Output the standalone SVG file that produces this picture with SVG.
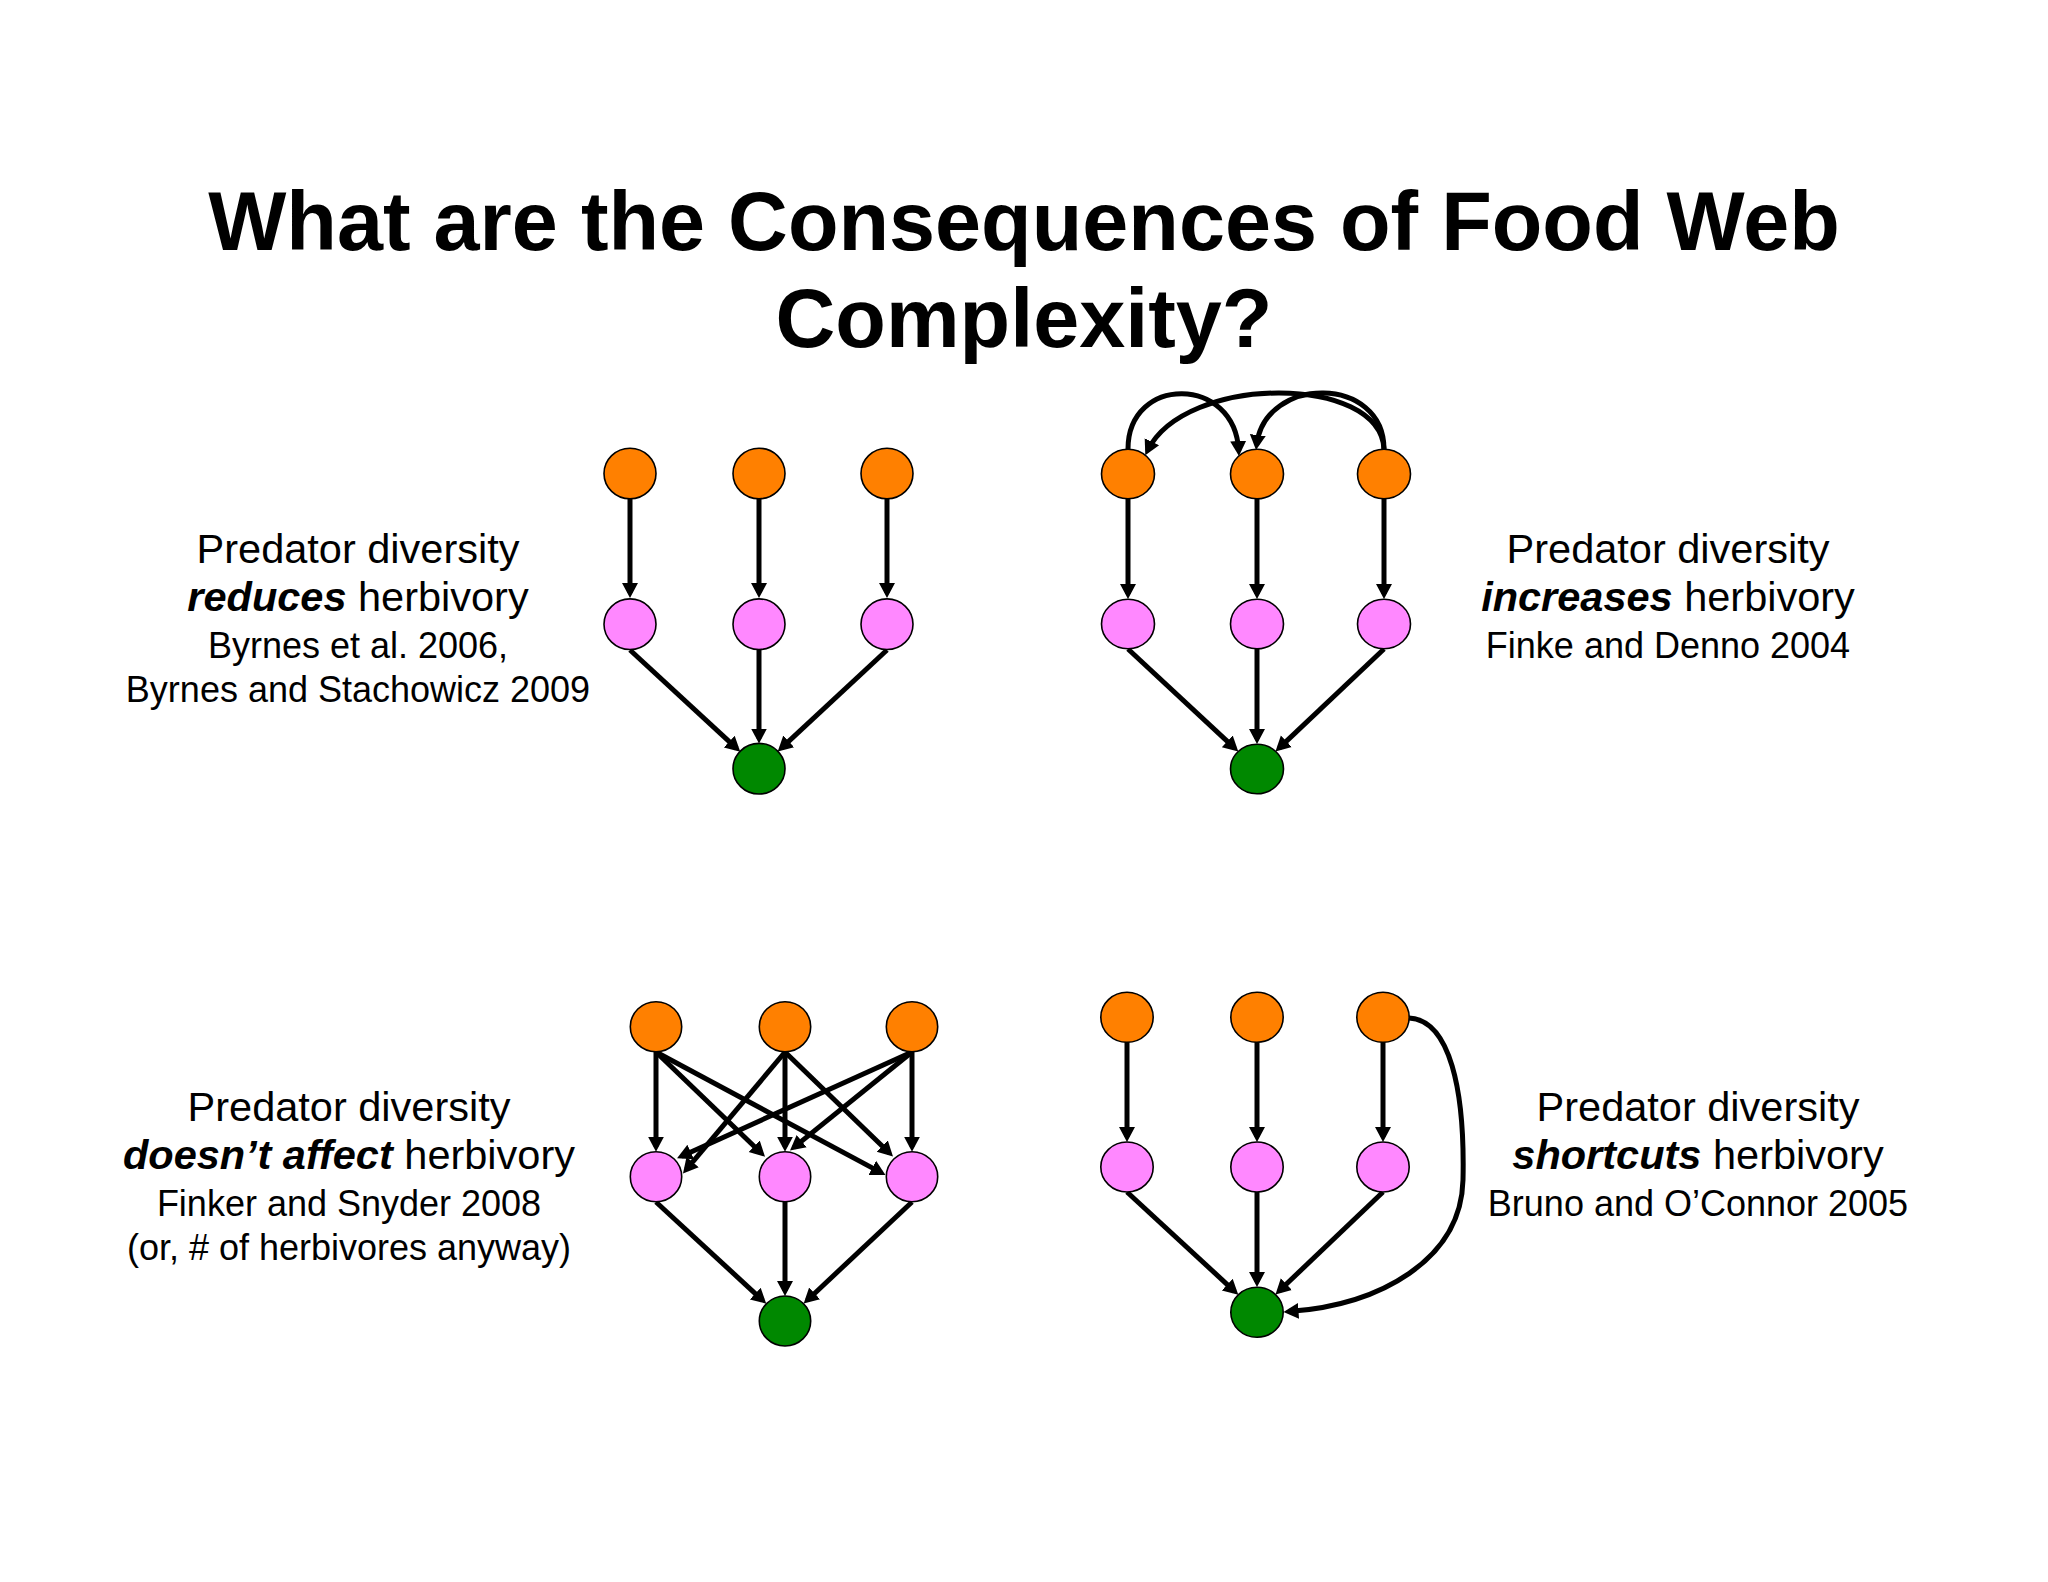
<svg xmlns="http://www.w3.org/2000/svg" width="2048" height="1582" viewBox="0 0 2048 1582">
<style>
.bg{fill:#ffffff}
.title{font-family:"Liberation Sans",Arial,sans-serif;font-weight:bold;font-size:82.8px;fill:#000;text-anchor:middle}
.lbl{font-family:"Liberation Sans",Arial,sans-serif;font-size:41.5px;fill:#000;text-anchor:middle}
.cit{font-family:"Liberation Sans",Arial,sans-serif;font-size:36px;fill:#000;text-anchor:middle}
.em{font-weight:bold;font-style:italic}
.e{fill:none;stroke:#000;stroke-width:5;marker-end:url(#ah)}
.pred{fill:#FF8000;stroke:#000;stroke-width:1.6}
.herb{fill:#FF88FF;stroke:#000;stroke-width:1.6}
.plant{fill:#008800;stroke:#000;stroke-width:1.6}
</style>
<defs>
<marker id="ah" markerUnits="userSpaceOnUse" markerWidth="20" markerHeight="20" viewBox="0 -10 20 20" refX="10" refY="0" orient="auto">
<path d="M0,-8 L15,0 L0,8 z" fill="#000"/>
</marker>
</defs>
<rect class="bg" x="0" y="0" width="2048" height="1582"/>

<g id="title">
<text class="title" x="1024" y="250">What are the Consequences of Food Web</text>
<text class="title" x="1024" y="347">Complexity?</text>
</g>

<g id="connectors">
<!-- top-left -->
<path class="e" d="M630 499 L630 593"/>
<path class="e" d="M759 499 L759 593"/>
<path class="e" d="M887 499 L887 593"/>
<path class="e" d="M630 650 L736.6 748.3"/>
<path class="e" d="M759 650 L759 738.5"/>
<path class="e" d="M887 650 L781.4 748.2"/>
<!-- top-right -->
<path class="e" d="M1128 499 L1128 594"/>
<path class="e" d="M1257 499 L1257 594"/>
<path class="e" d="M1384 499 L1384 594"/>
<path class="e" d="M1128 649 L1234.6 748.2"/>
<path class="e" d="M1257 649 L1257 739"/>
<path class="e" d="M1384 649 L1279.1 748.1"/>
<path class="e" d="M1128 449 C1128 375 1235 375 1238.7 451"/>
<path class="e" d="M1384 449 C1384 375 1265 375 1256.6 445"/>
<path class="e" d="M1384 449 C1380 374 1185 374 1147.5 450.7"/>
<!-- bottom-left -->
<path class="e" d="M656 1052 L656 1146.7"/>
<path class="e" d="M656 1052 L761.4 1153.2"/>
<path class="e" d="M656 1052 L881.1 1172.6"/>
<path class="e" d="M785 1052 L686.2 1169.7"/>
<path class="e" d="M785 1052 L785 1146.7"/>
<path class="e" d="M785 1052 L889.4 1153"/>
<path class="e" d="M912 1052 L681.6 1156.2"/>
<path class="e" d="M912 1052 L793.9 1147.4"/>
<path class="e" d="M912 1052 L912 1146.7"/>
<path class="e" d="M656 1202 L762.6 1300.3"/>
<path class="e" d="M785 1202 L785 1291"/>
<path class="e" d="M912 1202 L807.3 1300.2"/>
<!-- bottom-right -->
<path class="e" d="M1127 1042 L1127 1137"/>
<path class="e" d="M1257 1042 L1257 1137"/>
<path class="e" d="M1383 1042 L1383 1137"/>
<path class="e" d="M1127 1192 L1234.6 1291.3"/>
<path class="e" d="M1257 1192 L1257 1282"/>
<path class="e" d="M1383 1192 L1279.1 1291"/>
<path class="e" d="M1409 1018 C1450 1020 1465 1090 1463 1180 C1461 1260 1380 1305 1288.5 1311.6"/>
</g>

<!-- top-left nodes -->
<g id="tl-pred1"><ellipse class="pred" cx="630" cy="473.5" rx="26" ry="25.3"/></g>
<g id="tl-pred2"><ellipse class="pred" cx="759" cy="473.5" rx="26" ry="25.3"/></g>
<g id="tl-pred3"><ellipse class="pred" cx="887" cy="473.5" rx="26" ry="25.3"/></g>
<g id="tl-herb1"><ellipse class="herb" cx="630" cy="624.2" rx="26" ry="25.3"/></g>
<g id="tl-herb2"><ellipse class="herb" cx="759" cy="624.2" rx="26" ry="25.3"/></g>
<g id="tl-herb3"><ellipse class="herb" cx="887" cy="624.2" rx="26" ry="25.3"/></g>
<g id="tl-plant"><ellipse class="plant" cx="759" cy="768.7" rx="26" ry="25.3"/></g>

<!-- top-right nodes -->
<g id="tr-pred1"><ellipse class="pred" cx="1128" cy="474" rx="26.5" ry="24.8"/></g>
<g id="tr-pred2"><ellipse class="pred" cx="1257" cy="474" rx="26.5" ry="24.8"/></g>
<g id="tr-pred3"><ellipse class="pred" cx="1384" cy="474" rx="26.5" ry="24.8"/></g>
<g id="tr-herb1"><ellipse class="herb" cx="1128" cy="624" rx="26.5" ry="24.8"/></g>
<g id="tr-herb2"><ellipse class="herb" cx="1257" cy="624" rx="26.5" ry="24.8"/></g>
<g id="tr-herb3"><ellipse class="herb" cx="1384" cy="624" rx="26.5" ry="24.8"/></g>
<g id="tr-plant"><ellipse class="plant" cx="1257" cy="769" rx="26.5" ry="24.8"/></g>

<!-- bottom-left nodes -->
<g id="bl-pred1"><ellipse class="pred" cx="656" cy="1026.7" rx="25.7" ry="25"/></g>
<g id="bl-pred2"><ellipse class="pred" cx="785" cy="1026.7" rx="25.7" ry="25"/></g>
<g id="bl-pred3"><ellipse class="pred" cx="912" cy="1026.7" rx="25.7" ry="25"/></g>
<g id="bl-herb1"><ellipse class="herb" cx="656" cy="1176.7" rx="25.7" ry="25"/></g>
<g id="bl-herb2"><ellipse class="herb" cx="785" cy="1176.7" rx="25.7" ry="25"/></g>
<g id="bl-herb3"><ellipse class="herb" cx="912" cy="1176.7" rx="25.7" ry="25"/></g>
<g id="bl-plant"><ellipse class="plant" cx="785" cy="1321" rx="25.7" ry="25"/></g>

<!-- bottom-right nodes -->
<g id="br-pred1"><ellipse class="pred" cx="1127" cy="1017.3" rx="26.2" ry="25"/></g>
<g id="br-pred2"><ellipse class="pred" cx="1257" cy="1017.3" rx="26.2" ry="25"/></g>
<g id="br-pred3"><ellipse class="pred" cx="1383" cy="1017.3" rx="26.2" ry="25"/></g>
<g id="br-herb1"><ellipse class="herb" cx="1127" cy="1167" rx="26.2" ry="25"/></g>
<g id="br-herb2"><ellipse class="herb" cx="1257" cy="1167" rx="26.2" ry="25"/></g>
<g id="br-herb3"><ellipse class="herb" cx="1383" cy="1167" rx="26.2" ry="25"/></g>
<g id="br-plant"><ellipse class="plant" cx="1257" cy="1312.3" rx="26.2" ry="25"/></g>

<g id="label-tl">
<text class="lbl" x="358" y="563">Predator diversity</text>
<text class="lbl" x="358" y="611"><tspan class="em">reduces</tspan> herbivory</text>
<text class="cit" x="358" y="658">Byrnes et al. 2006,</text>
<text class="cit" x="358" y="702">Byrnes and Stachowicz 2009</text>
</g>
<g id="label-tr">
<text class="lbl" x="1668" y="563">Predator diversity</text>
<text class="lbl" x="1668" y="611"><tspan class="em">increases</tspan> herbivory</text>
<text class="cit" x="1668" y="658">Finke and Denno 2004</text>
</g>
<g id="label-bl">
<text class="lbl" x="349" y="1121">Predator diversity</text>
<text class="lbl" x="349" y="1169"><tspan class="em">doesn’t affect</tspan> herbivory</text>
<text class="cit" x="349" y="1216">Finker and Snyder 2008</text>
<text class="cit" x="349" y="1260">(or, # of herbivores anyway)</text>
</g>
<g id="label-br">
<text class="lbl" x="1698" y="1121">Predator diversity</text>
<text class="lbl" x="1698" y="1169"><tspan class="em">shortcuts</tspan> herbivory</text>
<text class="cit" x="1698" y="1216">Bruno and O’Connor 2005</text>
</g>
</svg>
